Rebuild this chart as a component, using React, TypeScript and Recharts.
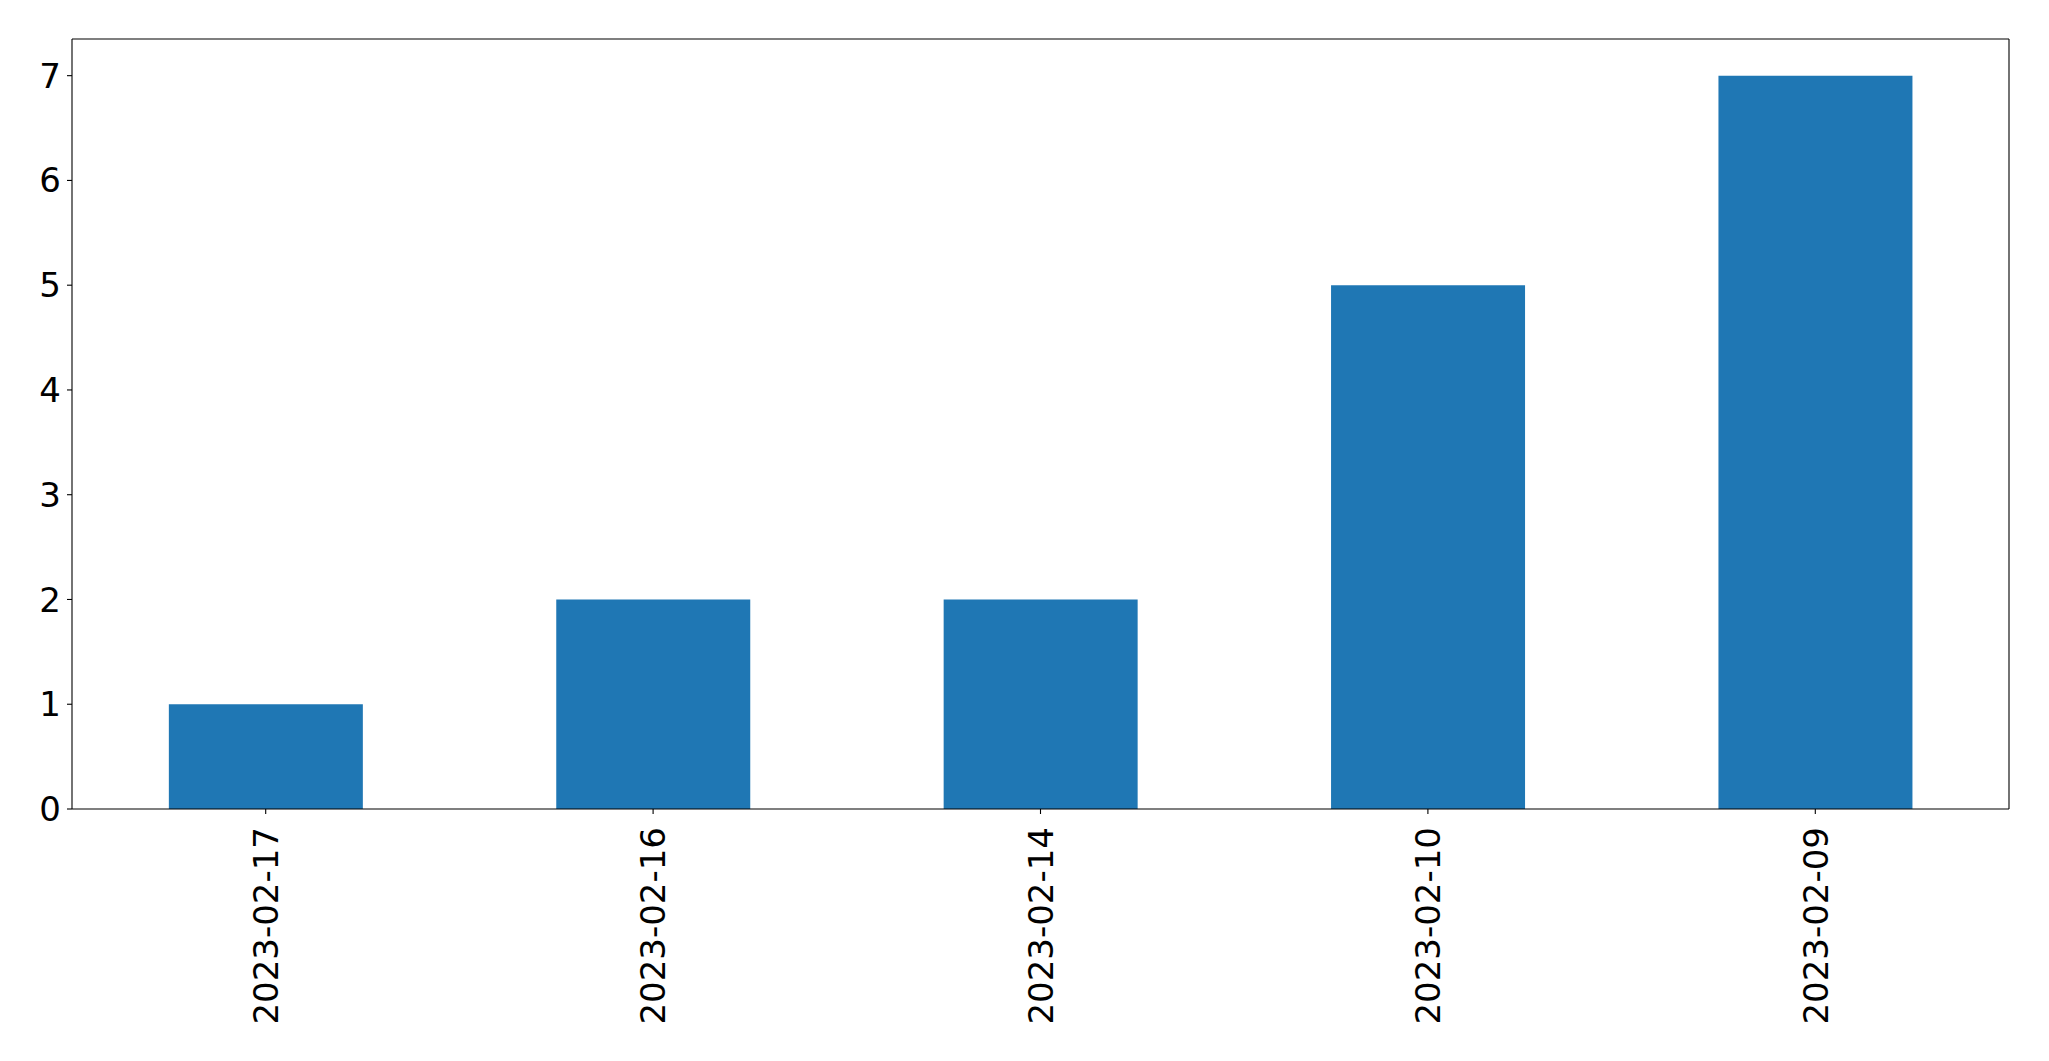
import { Bar, BarChart, XAxis, YAxis } from "recharts";

const dates = ["2023-02-17", "2023-02-16", "2023-02-14", "2023-02-10", "2023-02-09"];
const counts = [1, 2, 2, 5, 7];
const yTicks = [0, 1, 2, 3, 4, 5, 6, 7];

const BLUE = "#1f77b4";
const FONT = "DejaVu Sans";

const rows = dates.map((d, i) => ({ date: d, count: counts[i] }));

// rotated date labels, string end sits just below the tick
function DateTick({ x, y, payload }: any) {
  return (
    <g transform={`translate(${x},${y})`}>
      <text
        transform="rotate(-90)"
        x={-9}
        y={0}
        dy="0.36em"
        textAnchor="end"
        fontFamily={FONT}
        fontSize={34}
        fill="#000"
      >
        {payload.value}
      </text>
    </g>
  );
}

export default function App() {
  return (
    <div style={{ position: "absolute", left: 0, top: 0, background: "#fff" }}>
      <BarChart
        width={2049}
        height={1061}
        data={rows}
        margin={{ top: 38, right: 39, left: 0, bottom: 0 }}
        barCategoryGap="25%"
      >
        <XAxis
          dataKey="date"
          height={252}
          tickSize={5}
          tickMargin={4}
          tick={<DateTick />}
          interval={0}
          stroke="#000"
          axisLine={{ stroke: "#000", strokeWidth: 1.1 }}
          tickLine={{ stroke: "#000", strokeWidth: 1.1 }}
        />
        {/* top frame line */}
        <XAxis
          xAxisId="top"
          dataKey="date"
          orientation="top"
          height={1}
          tick={false}
          tickLine={false}
          axisLine={{ stroke: "#000", strokeWidth: 1.1 }}
        />
        <YAxis
          width={72}
          domain={[0, 7.35]}
          ticks={yTicks}
          allowDataOverflow
          tickSize={5}
          tickMargin={6}
          interval={0}
          axisLine={{ stroke: "#000", strokeWidth: 1.1 }}
          tickLine={{ stroke: "#000", strokeWidth: 1.1 }}
          tick={{ fontFamily: FONT, fontSize: 34, fill: "#000" }}
        />
        {/* right frame line */}
        <YAxis
          yAxisId="right"
          orientation="right"
          width={1}
          domain={[0, 7.35]}
          tick={false}
          tickLine={false}
          axisLine={{ stroke: "#000", strokeWidth: 1.1 }}
        />
        <Bar dataKey="count" fill={BLUE} isAnimationActive={false} />
      </BarChart>
    </div>
  );
}
